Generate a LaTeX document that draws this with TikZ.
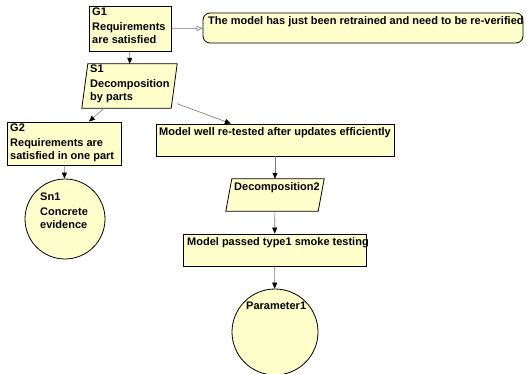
\documentclass[tikz,border=0pt]{standalone}
\usepackage{fontspec}
\setmainfont{Liberation Sans}
\usetikzlibrary{arrows.meta}
\definecolor{gsnfill}{RGB}{255,255,204}
\definecolor{linkgray}{RGB}{120,120,120}
\tikzset{
  gsnfont/.style={font=\fontsize{11}{13}\selectfont\bfseries},
  goalbox/.style={draw=black, line width=0.8pt, fill=gsnfill, rectangle, inner sep=0pt},
  ctxbox/.style={draw=black, line width=0.8pt, fill=gsnfill, rectangle, rounded corners=7pt, inner sep=0pt},
  stratarea/.style={rectangle, inner sep=0pt},
  stratshape/.style={draw=black, line width=0.8pt, fill=gsnfill},
  solcircle/.style={draw=black, line width=0.8pt, fill=gsnfill, circle, inner sep=0pt},
  txt/.style={gsnfont, anchor=north west, align=left, inner sep=0pt},
  solved/.style={draw=linkgray, line width=0.6pt, -{Stealth[length=6pt,width=5pt,inset=0pt,color=black]}},
  incontext/.style={draw=linkgray, line width=0.6pt, -{Triangle[open,length=6pt,width=5pt,color=linkgray,fill=white]}},
}
\begin{document}
\begin{tikzpicture}[x=1pt,y=-1pt]
\useasboundingbox (0,0) rectangle (527,374);

% goals
\node[goalbox, minimum width=82pt, minimum height=45pt] (G1) at (130,28.5) {};
\node[txt] (G1t) at (92,8) {G1\\[2pt]Requirements\\are satisfied};

\node[goalbox, minimum width=114pt, minimum height=43pt] (G2) at (64,143.5) {};
\node[txt] (G2t) at (10,124) {G2\\[2pt]Requirements are\\satisfied in one part};

\node[goalbox, minimum width=238pt, minimum height=32pt] (M1) at (275,140) {};
\node[txt] (M1t) at (159,127) {Model well re-tested after updates efficiently};

\node[goalbox, minimum width=183pt, minimum height=32pt] (M2) at (274.5,250) {};
\node[txt] (M2t) at (187,237) {Model passed type1 smoke testing};

% context
\node[ctxbox, minimum width=320pt, minimum height=30pt] (C1) at (363,28) {};
\node[txt] (C1t) at (208,16) {The model has just been retrained and need to be re-verified};

% strategies: parallelograms leaning right
\node[stratarea, minimum width=95pt, minimum height=44pt] (S1) at (129.5,86) {};
\draw[stratshape] ([xshift=6pt]S1.north west) -- (S1.north east)
  -- ([xshift=-6pt]S1.south east) -- (S1.south west) -- cycle;
\node[txt] (S1t) at (90,65) {S1\\[2pt]Decomposition\\by parts};

\node[stratarea, minimum width=98pt, minimum height=32pt] (S2) at (275,195) {};
\draw[stratshape] ([xshift=6pt]S2.north west) -- (S2.north east)
  -- ([xshift=-6pt]S2.south east) -- (S2.south west) -- cycle;
\node[txt] (S2t) at (234,182) {Decomposition2};

% solutions
\node[solcircle, minimum size=80pt] (Sn1) at (65,219) {};
\node[txt] (Sn1t) at (40,193) {Sn1\\[2pt]Concrete\\evidence};

\node[solcircle, minimum size=86pt] (P1) at (275,332) {};
\node[txt] (P1t) at (246,302) {Parameter1};

% links
\draw[incontext] (G1) -- (C1);
\draw[solved] (G1) -- (S1);
\draw[solved] (S1) -- (G2);
\draw[solved] (S1) -- (M1);
\draw[solved] (G2) -- (Sn1);
\draw[solved] (M1) -- (S2);
\draw[solved] (S2) -- (M2);
\draw[solved] (M2) -- (P1);
\end{tikzpicture}
\end{document}
